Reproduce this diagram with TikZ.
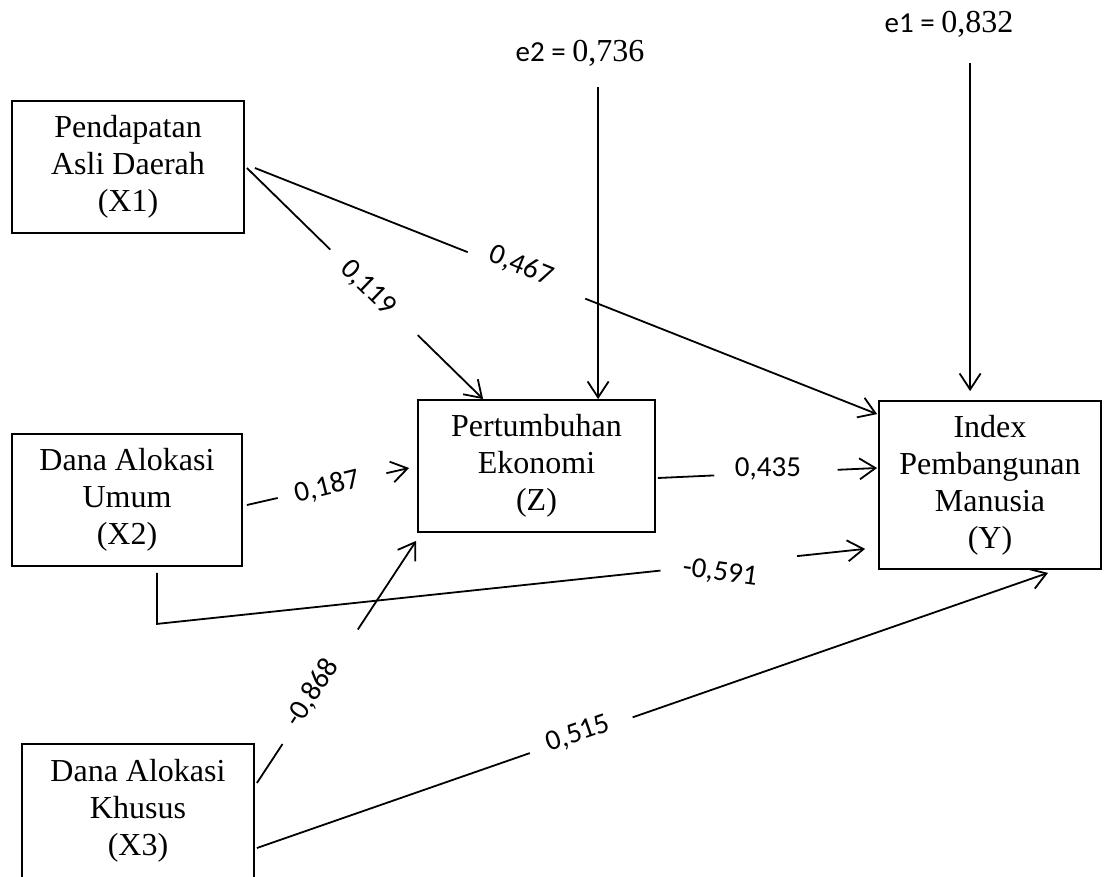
\documentclass[tikz,border=0pt]{standalone}
\usepackage{fontspec}
\setmainfont{Liberation Serif}
\newfontfamily\calib{Carlito}
\usetikzlibrary{arrows.meta,calc}
\begin{document}
\begin{tikzpicture}[x=1pt,y=1pt,
  box/.style={draw, line width=1.8pt, align=center, inner sep=0pt,
    font=\fontsize{32}{37}\selectfont},
  lab/.style={inner sep=0pt, font=\calib\fontsize{29}{30}\selectfont},
  conn/.style={line width=1.8pt},
  arr/.style={conn, -{Straight Barb[length=16pt,width=21pt]}}]
\useasboundingbox (0,0) rectangle (1110,-877);

% boxes
\node[box, minimum width=232pt, minimum height=132pt] (X1) at (128,-167) {Pendapatan\\Asli Daerah\\(X1)};
\node[box, minimum width=230pt, minimum height=132pt] (X2) at (127,-500) {Dana Alokasi\\Umum\\(X2)};
\node[box, minimum width=232pt, minimum height=134pt] (X3) at (138,-811) {Dana Alokasi\\Khusus\\(X3)};
\node[box, minimum width=237pt, minimum height=132pt] (Z) at (536.5,-466) {Pertumbuhan\\Ekonomi\\(Z)};
\node[box, minimum width=222pt, minimum height=168pt] (Y) at (990,-485) {Index\\Pembangunan\\Manusia\\(Y)};

% error terms
\node[lab, anchor=base] (e2) at (580,-62) {e2 = {\rmfamily\fontsize{32}{37}\selectfont 0,736}};
\node[lab, anchor=base] (e1) at (949,-33) {e1 = {\rmfamily\fontsize{32}{37}\selectfont 0,832}};

% X1 -> Z
\coordinate (a1) at ($(X1.east)+(2,-1)$);
\coordinate (b1) at ($(Z.north west)+(66,0)$);
\draw[conn] (a1) -- ($(a1)!0.353!(b1)$);
\draw[arr] ($(a1)!0.723!(b1)$) -- (b1);
\node[lab, rotate=-44] (l1) at (368,-288) {0,119};

% X1 -> Y
\coordinate (a2) at ($(X1.east)+(10,-1)$);
\coordinate (b2) at ($(Y.north west)+(-1,-14)$);
\draw[conn] (a2) -- ($(a2)!0.342!(b2)$);
\draw[arr] ($(a2)!0.531!(b2)$) -- (b2);
\node[lab, rotate=-22] (l2) at (521,-266) {0,467};

% X2 -> Z
\coordinate (a3) at ($(X2.east)+(4,-5)$);
\coordinate (b3) at ($(Z.west)+(-8,-2)$);
\draw[conn] (a3) -- ($(a3)!0.19!(b3)$);
\draw[arr] ($(a3)!0.86!(b3)$) -- (b3);
\node[lab, rotate=14] (l3) at (327,-487) {0,187};

% Z -> Y
\coordinate (a4) at ($(Z.east)+(2,-12)$);
\coordinate (b4) at ($(Y.west)+(-1,17)$);
\draw[conn] (a4) -- ($(a4)!0.257!(b4)$);
\draw[arr] ($(a4)!0.82!(b4)$) -- (b4);
\node[lab] (l4) at (768,-469) {0,435};

% X2 -> Y (elbow)
\coordinate (a5) at ($(X2.south)+(30,-6)$);
\coordinate (c5) at ($(X2.south)+(30,-57)$);
\coordinate (b5) at ($(Y.south west)+(-13,21)$);
\draw[conn] (a5) -- (c5) -- ($(c5)!0.711!(b5)$);
\draw[arr] ($(c5)!0.904!(b5)$) -- (b5);
\node[lab, rotate=-8] (l5) at (720,-573) {-0,591};

% X3 -> Z
\coordinate (a6) at ($(X3.east)+(2,28)$);
\coordinate (b6) at ($(Z.south west)+(-1,-8)$);
\draw[conn] (a6) -- ($(a6)!0.161!(b6)$);
\draw[arr] ($(a6)!0.634!(b6)$) -- (b6);
\node[lab, rotate=57] (l6) at (312,-693) {-0,868};

% X3 -> Y
\coordinate (a7) at ($(X3.east)+(2,-37)$);
\coordinate (b7) at ($(Y.south)+(58,-3)$);
\draw[conn] (a7) -- ($(a7)!0.345!(b7)$);
\draw[arr] ($(a7)!0.475!(b7)$) -- (b7);
\node[lab, rotate=19] (l7) at (578,-734) {0,515};

% error arrows
\draw[arr] ($(Z.north west)+(181,312)$) -- ($(Z.north west)+(181,0)$);
\draw[arr] ($(Y.north west)+(92,337)$) -- ($(Y.north west)+(92,9)$);
\end{tikzpicture}
\end{document}
